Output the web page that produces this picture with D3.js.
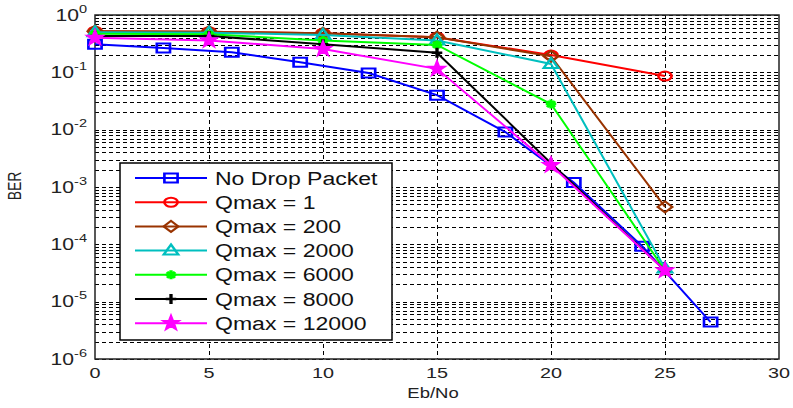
<!DOCTYPE html>
<html>
<head>
<meta charset="utf-8">
<script src="https://cdn.jsdelivr.net/npm/d3@7"></script>
<style>
  html, body { margin: 0; padding: 0; background: #fff; }
  svg { display: block; font-family: "Liberation Sans", Arial, sans-serif; }
</style>
</head>
<body>
<div id="chart"></div>
<script>
// valori
const qmaxX = [0, 5, 10, 15, 20, 25];
const noDropX = [0, 3, 6, 9, 12, 15, 18, 21, 24, 27];
const noDrop = [0.31, 0.265, 0.225, 0.15, 0.097, 0.040, 0.0091, 0.0012, 9.3e-5, 4.4e-6];
const qmax1 = [0.52, 0.51, 0.48, 0.41, 0.20, 0.086];
const qmax200 = [0.52, 0.51, 0.48, 0.41, 0.19, 4.5e-4];
const qmax2000 = [0.50, 0.49, 0.45, 0.36, 0.14, 3.8e-5];
const qmax6000 = [0.47, 0.46, 0.36, 0.30, 0.028, 3.5e-5];
const qmax8000 = [0.43, 0.43, 0.31, 0.22, 0.0026, 3.5e-5];
const qmax12000 = [0.40, 0.36, 0.255, 0.115, 0.0024, 3.5e-5];

const xTicks = [0, 5, 10, 15, 20, 25, 30];
const yExponents = [0, -1, -2, -3, -4, -5, -6];

const series = [
    { name: "No Drop Packet", x: noDropX, y: noDrop, color: "#0000ff", marker: "square" },
    { name: "Qmax = 1", x: qmaxX, y: qmax1, color: "#ff0000", marker: "circle" },
    { name: "Qmax = 200", x: qmaxX, y: qmax200, color: "#993300", marker: "diamond" },
    { name: "Qmax = 2000", x: qmaxX, y: qmax2000, color: "#00bfbf", marker: "triangle" },
    { name: "Qmax = 6000", x: qmaxX, y: qmax6000, color: "#00ff00", marker: "asterisk" },
    { name: "Qmax = 8000", x: qmaxX, y: qmax8000, color: "#000000", marker: "plus" },
    { name: "Qmax = 12000", x: qmaxX, y: qmax12000, color: "#ff00ff", marker: "star" }
];

const width = 793, height = 408;
const plotLeft = 95, plotRight = 779, plotTop = 15, plotBottom = 359;
const stretch = 1.32; // l'immagine originale e' allargata in orizzontale

const svg = d3.select("#chart").append("svg")
    .attr("width", width)
    .attr("height", height);

const x = d3.scaleLinear().domain([0, 30]).range([plotLeft, plotRight]);
const y = d3.scaleLog().domain([1e-6, 1]).range([plotBottom, plotTop]);

// griglia orizzontale (maggiore + minore)
const yGrid = [];
for (let e = -6; e <= 0; e++) {
    for (let m = 1; m <= 9; m++) {
        const v = m * Math.pow(10, e);
        if (v <= 1) yGrid.push(v);
    }
}
svg.append("g")
    .selectAll("line")
    .data(yGrid)
    .join("line")
    .attr("x1", plotLeft).attr("x2", plotRight)
    .attr("y1", d => Math.round(y(d)) + 0.5)
    .attr("y2", d => Math.round(y(d)) + 0.5)
    .attr("stroke", "#000")
    .attr("stroke-width", 1)
    .attr("stroke-dasharray", "4,3");

// griglia verticale
svg.append("g")
    .selectAll("line")
    .data(xTicks.filter(d => d > 0 && d < 30))
    .join("line")
    .attr("x1", d => Math.round(x(d)) + 0.5)
    .attr("x2", d => Math.round(x(d)) + 0.5)
    .attr("y1", plotTop).attr("y2", plotBottom)
    .attr("stroke", "#000")
    .attr("stroke-width", 1)
    .attr("stroke-dasharray", "4,3");

// cornice
svg.append("rect")
    .attr("x", plotLeft).attr("y", plotTop)
    .attr("width", plotRight - plotLeft).attr("height", plotBottom - plotTop)
    .attr("fill", "none")
    .attr("stroke", "#222")
    .attr("stroke-width", 1.5);

// etichette asse x
svg.append("g")
    .selectAll("text")
    .data(xTicks)
    .join("text")
    .attr("transform", d => `translate(${x(d)},378) scale(${stretch},1)`)
    .attr("text-anchor", "middle")
    .attr("font-size", 15)
    .attr("fill", "#222")
    .text(d => d);

// etichette asse y (10^k)
const yLab = svg.append("g")
    .selectAll("text")
    .data(yExponents)
    .join("text")
    .attr("transform", d => `translate(87,${y(Math.pow(10, d)) + 5.5}) scale(${stretch},1)`)
    .attr("text-anchor", "end")
    .attr("font-size", 16)
    .attr("fill", "#222");
yLab.append("tspan").text("10");
yLab.append("tspan")
    .attr("dy", -8)
    .attr("font-size", 11)
    .text(d => d === 0 ? "0" : "-" + (-d));

svg.append("text")
    .attr("transform", `translate(433,398) scale(${stretch},1)`)
    .attr("text-anchor", "middle")
    .attr("font-size", 14)
    .attr("fill", "#222")
    .text("Eb/No");

svg.append("text")
    .attr("transform", `translate(21,186) scale(${stretch},1) rotate(-90)`)
    .attr("text-anchor", "middle")
    .attr("font-size", 14)
    .attr("fill", "#222")
    .text("BER");

// marcatori
function markerPath(type) {
    switch (type) {
        case "square": return "M-5,-4.5H5V4.5H-5Z";
        case "circle": return "M-5,0A5,4.5 0 1,0 5,0A5,4.5 0 1,0 -5,0Z";
        case "diamond": return "M0,-5.5L5.5,0L0,5.5L-5.5,0Z";
        case "triangle": return "M0,-6L5.5,4L-5.5,4Z";
        case "asterisk": return "M0,-4.5V4.5M-4,0H4M-3,-3L3,3M-3,3L3,-3";
        case "plus": return "M0,-5V5M-4,0H4";
        case "star": {
            const pts = [];
            for (let i = 0; i < 10; i++) {
                const r = i % 2 === 0 ? 7 : 2.8;
                const a = -Math.PI / 2 + i * Math.PI / 5;
                pts.push([r * Math.cos(a) * 0.85, r * Math.sin(a)]);
            }
            return "M" + pts.map(p => p.join(",")).join("L") + "Z";
        }
    }
}

function drawMarker(g, type, color, cx, cy) {
    g.append("path")
        .attr("d", markerPath(type))
        .attr("transform", `translate(${cx},${cy}) scale(${stretch},1)`)
        .attr("fill", type === "star" ? color : "none")
        .attr("stroke", color)
        .attr("stroke-width", type === "asterisk" || type === "plus" ? 2.5 : 2);
}

const line = d3.line().x(d => x(d[0])).y(d => y(d[1]));

series.forEach(s => {
    const pts = s.x.map((v, i) => [v, s.y[i]]);
    const g = svg.append("g");
    g.append("path")
        .datum(pts)
        .attr("d", line)
        .attr("fill", "none")
        .attr("stroke", s.color)
        .attr("stroke-width", 2);
    pts.forEach(p => drawMarker(g, s.marker, s.color, x(p[0]), y(p[1])));
});

// legenda
const legend = svg.append("g");
legend.append("rect")
    .attr("x", 120).attr("y", 163)
    .attr("width", 272).attr("height", 177)
    .attr("fill", "#fff")
    .attr("stroke", "#000")
    .attr("stroke-width", 1.5);

series.forEach((s, i) => {
    const ly = 178 + i * 24.2;
    legend.append("line")
        .attr("x1", 135).attr("x2", 207)
        .attr("y1", ly).attr("y2", ly)
        .attr("stroke", s.color)
        .attr("stroke-width", 2);
    drawMarker(legend, s.marker, s.color, 171, ly);
    legend.append("text")
        .attr("transform", `translate(215,${ly + 6.5}) scale(1.28,1)`)
        .attr("font-size", 18)
        .attr("fill", "#111")
        .text(s.name);
});
</script>
</body>
</html>
